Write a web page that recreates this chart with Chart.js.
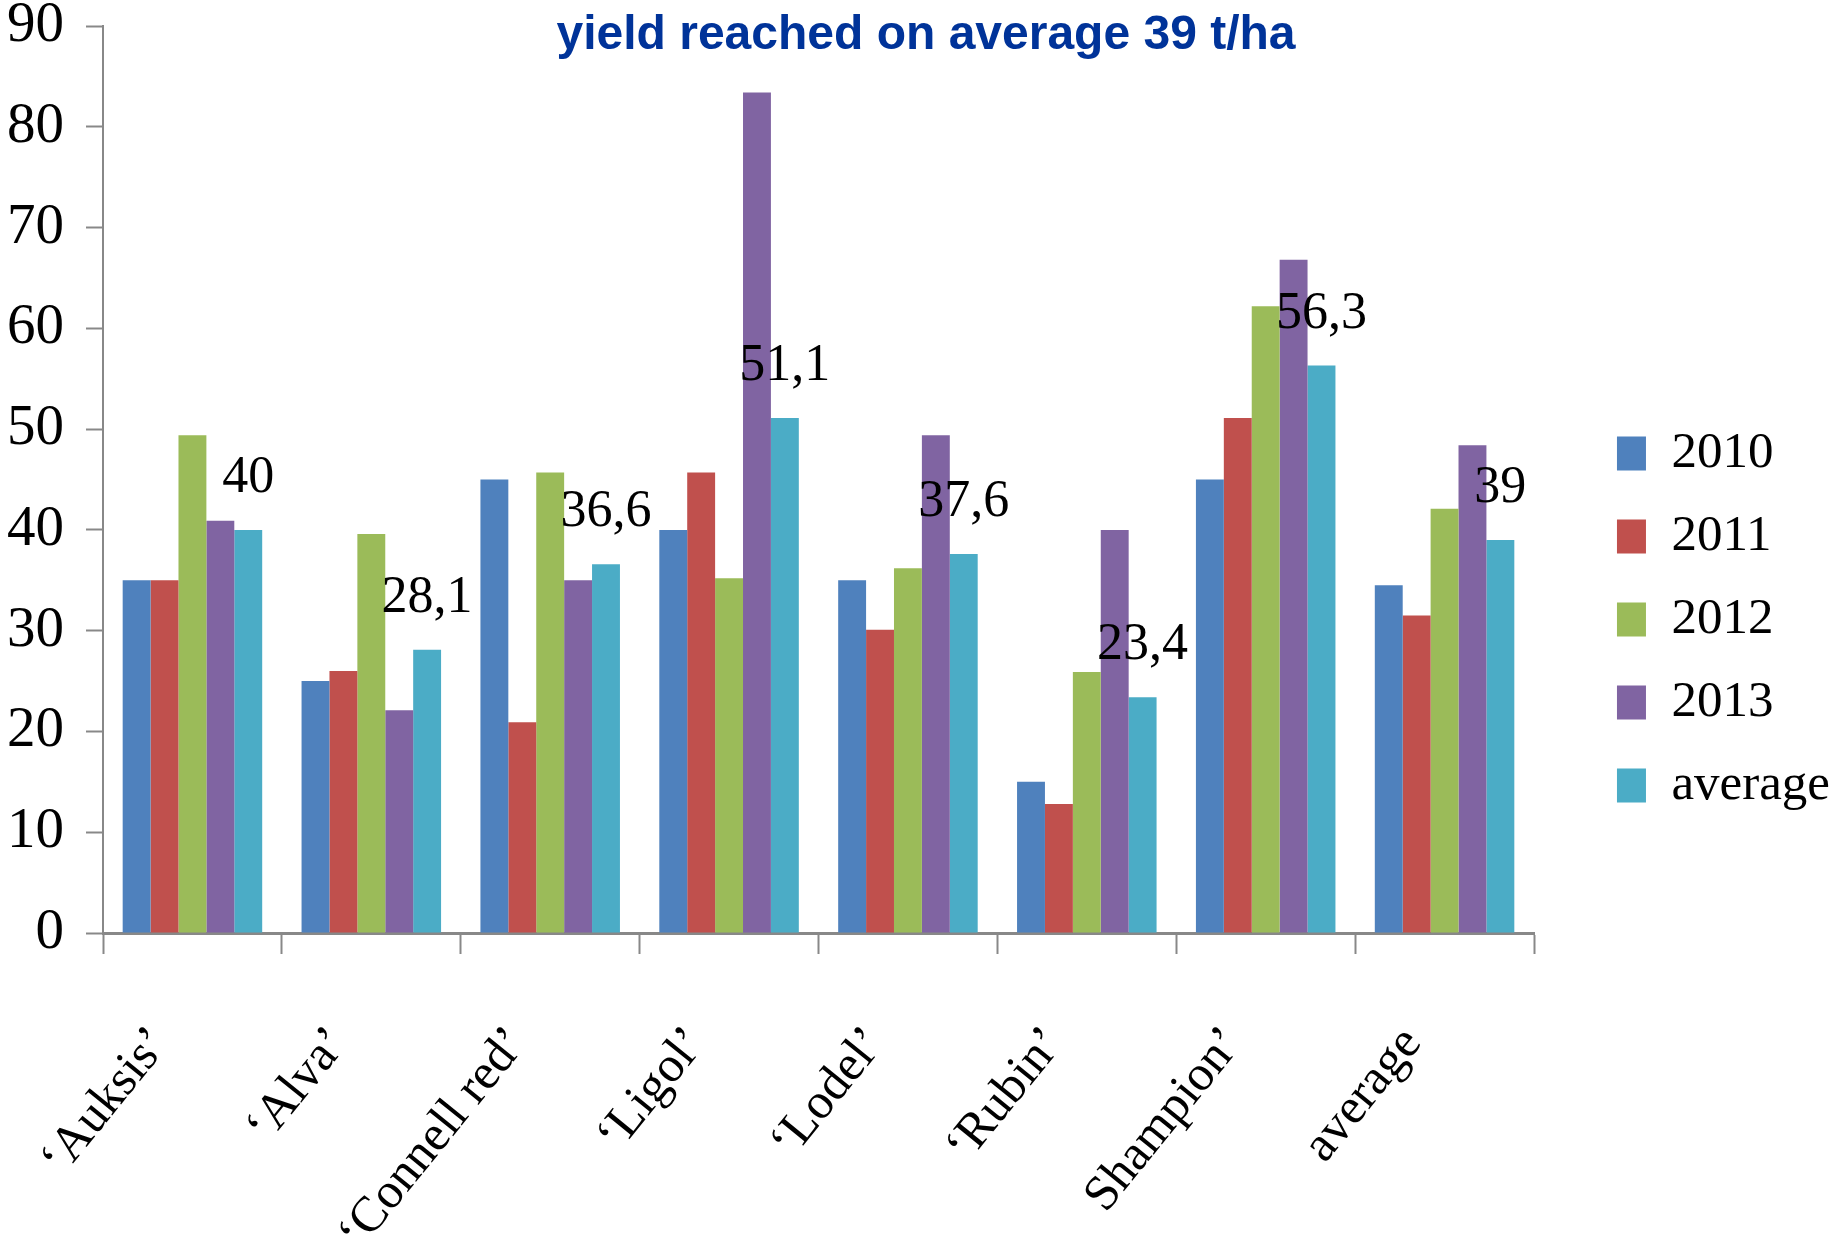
<!DOCTYPE html>
<html>
<head>
<meta charset="utf-8">
<title>Potato yield</title>
<script src="https://cdn.jsdelivr.net/npm/chart.js@4.4.0/dist/chart.umd.min.js"></script>
<style>
    html, body { margin: 0; padding: 0; background: #ffffff; }
    #wrap { width: 1840px; height: 1239px; position: relative; }
</style>
</head>
<body>
<div id="wrap"><canvas id="yieldChart" width="1840" height="1239"></canvas></div>
<script>
// Categories (varieties) and series names
const varieties = ['‘Auksis’', '‘Alva’', '‘Connell red’', '‘Ligol’', '‘Lodel’', '‘Rubin’', 'Shampion’', 'average'];
const seriesNames = ['2010', '2011', '2012', '2013', 'average'];

// Yield, t/ha
const yield2010 = [35, 25, 45, 40, 35, 15, 45, 34.5];
const yield2011 = [35, 26, 20.9, 45.7, 30.1, 12.8, 51.1, 31.5];
const yield2012 = [49.4, 39.6, 45.7, 35.2, 36.2, 25.9, 62.2, 42.1];
const yield2013 = [40.9, 22.1, 35, 83.4, 49.4, 40, 66.8, 48.4];
const yieldAvg  = [40, 28.1, 36.6, 51.1, 37.6, 23.4, 56.3, 39];

// Y axis range
const yMin = 0;
const yMax = 90;
const yStep = 10;

const titleText = 'yield reached on average 39 t/ha';

const colors = ['#4F81BD', '#C0504D', '#9BBB59', '#8064A2', '#4BACC6'];
const seriesData = [yield2010, yield2011, yield2012, yield2013, yieldAvg];

const serif = '"Liberation Serif", "Times New Roman", serif';
const axisGray = '#888888';

// Title drawn over the top of the plot (it does not take layout space)
const titlePlugin = {
    id: 'overTitle',
    afterDraw(chart) {
        const ctx = chart.ctx;
        ctx.save();
        ctx.font = 'bold 48px "Liberation Sans", Arial, sans-serif';
        ctx.fillStyle = '#003399';
        ctx.textAlign = 'center';
        ctx.textBaseline = 'alphabetic';
        ctx.fillText(titleText, 926, 49);
        ctx.restore();
    }
};

// Value labels above the "average" bars, with decimal comma
const avgLabels = {
    id: 'avgLabels',
    afterDatasetsDraw(chart) {
        const meta = chart.getDatasetMeta(4);
        const ctx = chart.ctx;
        ctx.save();
        ctx.font = '52px ' + serif;
        ctx.fillStyle = '#000000';
        ctx.textAlign = 'center';
        ctx.textBaseline = 'alphabetic';
        meta.data.forEach((bar, i) => {
            const txt = String(yieldAvg[i]).replace('.', ',');
            ctx.fillText(txt, bar.x, bar.y - 38);
        });
        ctx.restore();
    }
};

const plotTop = 26;
const plotBottom = 933;

function noOverhang(scale) {
    scale.paddingTop = 0;
    scale.paddingBottom = 0;
    scale.paddingLeft = 0;
    scale.paddingRight = 0;
}

const ctx = document.getElementById('yieldChart').getContext('2d');
const chart = new Chart(ctx, {
    type: 'bar',
    data: {
        labels: varieties,
        datasets: seriesNames.map((name, i) => ({
            label: name,
            data: seriesData[i],
            backgroundColor: colors[i],
            borderWidth: 0,
            categoryPercentage: 0.78,
            barPercentage: 1.0
        }))
    },
    options: {
        responsive: false,
        animation: false,
        layout: {
            padding: { left: 0, top: 0, right: 0, bottom: 0 }
        },
        plugins: {
            title: { display: false },
            tooltip: { enabled: false },
            legend: {
                position: 'right',
                align: 'center',
                labels: {
                    boxWidth: 29,
                    boxHeight: 34,
                    padding: 32,
                    color: '#000000',
                    font: { family: serif, size: 51 }
                }
            }
        },
        scales: {
            x: {
                grid: {
                    display: true,
                    offset: true,
                    drawOnChartArea: false,
                    drawTicks: true,
                    tickLength: 21,
                    tickWidth: 2,
                    color: axisGray
                },
                border: { display: true, color: axisGray, width: 3 },
                ticks: {
                    autoSkip: false,
                    maxRotation: 51,
                    minRotation: 51,
                    padding: 62,
                    labelOffset: -32,
                    color: '#000000',
                    font: { family: serif, size: 50 }
                },
                afterFit(scale) {
                    scale.height = 1239 - plotBottom;
                    noOverhang(scale);
                }
            },
            // empty band above the plot
            topGap: {
                type: 'linear',
                position: 'top',
                display: true,
                grid: { display: false },
                border: { display: false },
                ticks: { display: false },
                afterFit(scale) {
                    scale.height = plotTop;
                    noOverhang(scale);
                }
            },
            y: {
                min: yMin,
                max: yMax,
                grid: {
                    display: true,
                    drawOnChartArea: false,
                    drawTicks: true,
                    tickLength: 17,
                    tickWidth: 2,
                    color: axisGray
                },
                border: { display: true, color: axisGray, width: 2 },
                ticks: {
                    stepSize: yStep,
                    padding: 22,
                    color: '#000000',
                    font: { family: serif, size: 57 }
                },
                afterFit(scale) {
                    scale.width = 103;
                    noOverhang(scale);
                }
            },
            // empty spacer between the plot and the legend
            gap: {
                type: 'linear',
                position: 'right',
                display: true,
                grid: { display: false },
                border: { display: false },
                ticks: { display: false },
                afterFit(scale) {
                    const lw = scale.chart.legend ? scale.chart.legend.width : 0;
                    scale.width = Math.max(0, 1840 - lw - 1534);
                    noOverhang(scale);
                }
            }
        }
    },
    plugins: [avgLabels, titlePlugin]
});
</script>
</body>
</html>
